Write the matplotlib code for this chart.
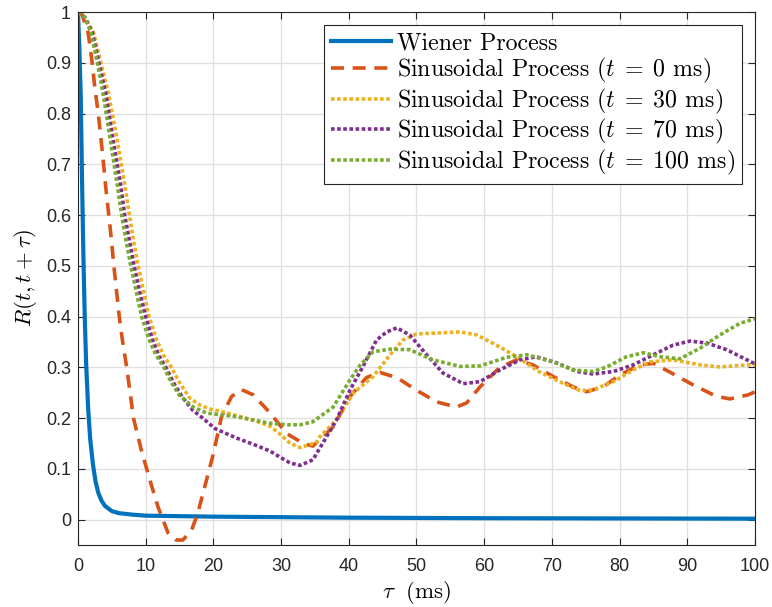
import numpy as np
import matplotlib
matplotlib.use("Agg")
import matplotlib.pyplot as plt
from matplotlib.ticker import FormatStrFormatter

# --- data ---
tau_w = [0, 0.2, 0.4, 0.6, 0.8, 1.0, 1.2, 1.5, 1.8, 2.2, 2.6, 3.0, 3.5, 4.0, 5.0, 6.0, 8.0, 10, 15, 20, 30, 40, 60, 80, 100]
r_w = [1.0, 0.93, 0.84, 0.67, 0.52, 0.40, 0.31, 0.22, 0.16, 0.11, 0.075, 0.053, 0.037, 0.027, 0.017, 0.013, 0.010, 0.008, 0.007, 0.006, 0.005, 0.004, 0.003, 0.0025, 0.002]

tau_t0 = [0, 0.6, 1.5, 2.1, 2.5, 3.0, 3.4, 3.75, 4.1, 4.5, 4.9, 5.3, 5.7, 6.1, 6.6, 7.2, 8.2, 9.3, 10.6, 11.8,
          13.3, 14.5, 15.5, 16.8, 17.7, 19, 20, 21.2, 22.7, 24.2, 25.9, 28.4, 30.8, 33.3, 34.7, 37.7, 40.2, 42.6,
          44.6, 47.1, 50, 53, 55.9, 57.4, 59.4, 62.3, 64.8, 67.2, 70.2, 73.1, 75.1, 77.6, 80, 83, 85, 87.4, 90.8,
          94.3, 96.3, 99, 100]
r_t0 = [1.0, 0.995, 0.96, 0.90, 0.85, 0.80, 0.75, 0.705, 0.655, 0.606, 0.557, 0.50, 0.45, 0.40, 0.35, 0.30,
        0.20, 0.14, 0.079, 0.026, -0.026, -0.04, -0.04, -0.02, 0.013, 0.079, 0.13, 0.203, 0.243, 0.256, 0.246,
        0.21, 0.17, 0.15, 0.145, 0.183, 0.243, 0.28, 0.29, 0.28, 0.255, 0.232, 0.222, 0.23, 0.262, 0.30, 0.315,
        0.305, 0.282, 0.262, 0.252, 0.262, 0.285, 0.305, 0.308, 0.291, 0.266, 0.243, 0.238, 0.246, 0.252]

tau_t30 = [0, 1, 2.3, 3.3, 4.5, 5.7, 6.8, 7.6, 8.2, 8.9, 9.7, 10.5, 11.6, 12.6, 13.8, 15, 16.5, 18, 19.5, 21.5,
           23.4, 26, 28.4, 30, 31.3, 32.8, 35.2, 35.7, 38.2, 40.7, 43.6, 46.1, 48, 50, 53.5, 56.4, 58.9, 61.8,
           64.8, 68.2, 71.6, 74.2, 76.1, 79.1, 82, 84.5, 87.9, 91.9, 94.8, 98.8, 100]
r_t30 = [1.0, 0.99, 0.96, 0.905, 0.84, 0.755, 0.669, 0.6, 0.55, 0.5, 0.45, 0.4, 0.355, 0.325, 0.3, 0.27, 0.24,
         0.226, 0.218, 0.212, 0.205, 0.196, 0.184, 0.167, 0.151, 0.142, 0.152, 0.163, 0.197, 0.25, 0.282, 0.325,
         0.354, 0.366, 0.368, 0.37, 0.364, 0.344, 0.321, 0.291, 0.269, 0.254, 0.256, 0.272, 0.295, 0.311, 0.315,
         0.305, 0.301, 0.305, 0.305]

tau_t70 = [0, 1, 2.1, 3.0, 4.1, 5.1, 6.2, 6.9, 7.6, 8.3, 9.1, 10, 11, 12, 13, 14.2, 15.5, 17, 18, 20.2, 21.5,
           23.4, 26, 28.4, 30, 31.3, 32.8, 34.7, 38.2, 40.2, 42.1, 44.1, 45.6, 47.1, 49, 51.5, 53.9, 56.9, 59.4,
           62.3, 65.3, 67.7, 70.7, 73.7, 76.1, 79.1, 82, 85, 87.9, 90.4, 92.9, 95.8, 98.2, 100]
r_t70 = [1.0, 0.99, 0.96, 0.905, 0.84, 0.755, 0.669, 0.6, 0.55, 0.5, 0.45, 0.4, 0.355, 0.322, 0.3, 0.268, 0.24,
         0.215, 0.205, 0.18, 0.172, 0.161, 0.148, 0.135, 0.122, 0.112, 0.107, 0.118, 0.197, 0.256, 0.302, 0.354,
         0.37, 0.378, 0.364, 0.325, 0.289, 0.268, 0.272, 0.295, 0.315, 0.321, 0.309, 0.292, 0.287, 0.292, 0.305,
         0.325, 0.344, 0.352, 0.348, 0.335, 0.319, 0.307]

tau_t100 = [0, 1, 1.9, 2.8, 3.7, 4.7, 5.7, 6.45, 7.1, 7.8, 8.6, 9.4, 10.5, 11.5, 12.7, 13.8, 15, 17, 19, 21.5,
            23.4, 26, 28.4, 31, 32.8, 34.7, 37.7, 40.2, 41.7, 43.6, 46.1, 49, 52.4, 56.4, 59.4, 63.3, 66.3, 70.2,
            73.1, 76.1, 78.1, 81, 83.5, 86, 88.9, 91.9, 94.8, 97.8, 100]
r_t100 = [1.0, 0.99, 0.96, 0.905, 0.84, 0.755, 0.669, 0.6, 0.55, 0.5, 0.45, 0.4, 0.355, 0.325, 0.3, 0.27, 0.245,
          0.222, 0.21, 0.206, 0.203, 0.196, 0.19, 0.187, 0.187, 0.193, 0.222, 0.276, 0.305, 0.331, 0.336, 0.335,
          0.315, 0.302, 0.303, 0.32, 0.325, 0.311, 0.295, 0.292, 0.301, 0.321, 0.329, 0.321, 0.317, 0.338, 0.364,
          0.387, 0.396]

labels = ['Wiener Process',
          r'Sinusoidal Process ($t \;=\; 0$ ms)',
          r'Sinusoidal Process ($t \;=\; 30$ ms)',
          r'Sinusoidal Process ($t \;=\; 70$ ms)',
          r'Sinusoidal Process ($t \;=\; 100$ ms)']

plt.rcParams['mathtext.fontset'] = 'cm'

fig = plt.figure(figsize=(7.72, 6.07), dpi=100)
ax = fig.add_axes([0.101, 0.102, 0.877, 0.878])

lw = 2.6
ax.plot(tau_w, r_w, color='#0072BD', lw=3.0, label=labels[0])
ax.plot(tau_t0, r_t0, color='#D95319', lw=lw, dashes=(3.6, 2.4), label=labels[1])
ax.plot(tau_t30, r_t30, color='#EDB120', lw=lw, dashes=(1, 0.7), dash_capstyle='butt', label=labels[2])
ax.plot(tau_t70, r_t70, color='#7E2F8E', lw=lw, dashes=(1, 0.7), dash_capstyle='butt', label=labels[3])
ax.plot(tau_t100, r_t100, color='#77AC30', lw=lw, dashes=(1, 0.7), dash_capstyle='butt', label=labels[4])

ax.set_xlim(0, 100)
ax.set_ylim(-0.05, 1)
ax.set_xticks(np.arange(0, 101, 10))
ax.set_yticks(np.arange(0, 1.01, 0.1))
ax.yaxis.set_major_formatter(FormatStrFormatter('%g'))
ax.grid(True, color='#dfdfdf', lw=0.9)
ax.set_axisbelow(True)
ax.tick_params(direction='in', top=True, right=True, length=5, width=0.8,
               colors='#262626', labelsize=13)
ax.tick_params(axis='x', pad=9)
ax.tick_params(axis='y', pad=5)
for lbl in ax.get_xticklabels() + ax.get_yticklabels():
    lbl.set_family('Liberation Sans')
for s in ax.spines.values():
    s.set_color('#262626')
    s.set_linewidth(0.8)

ax.set_xlabel(r'$\tau\;$ (ms)', fontsize=16.5, family='cmr10', labelpad=3)
ax.set_ylabel(r'$R(t,t+\tau)$', fontsize=16.5, labelpad=5)

leg = ax.legend(loc='upper right', prop={'family': 'cmr10', 'size': 17.2},
                fancybox=False, edgecolor='#262626', framealpha=1,
                handlelength=2.5, handletextpad=0.25, labelspacing=0.06,
                borderpad=0.3, borderaxespad=0.55)
leg.get_frame().set_linewidth(0.8)

fig.savefig('out.png', dpi=100)
